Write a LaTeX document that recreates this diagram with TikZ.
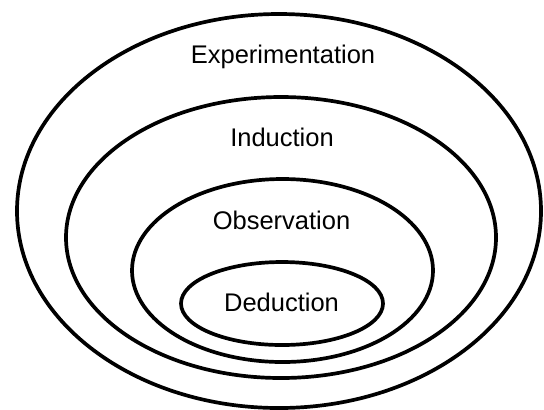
\documentclass[tikz,border=0pt]{standalone}
\usepackage{fontspec}
\setmainfont{Liberation Sans}
\usetikzlibrary{shapes.geometric}

\begin{document}
\begin{tikzpicture}[x=0.5pt, y=-0.5pt,
    ring/.style={ellipse, draw, line width=1.85pt, inner sep=0pt},
    lbl/.style={anchor=base, inner sep=0pt, font=\fontsize{12.75}{15}\selectfont}]
        \useasboundingbox (0,0) rectangle (544,409);
        % nested rings, outer to inner
        \node[ring, minimum width=262pt, minimum height=197pt]   (exper) at (279,211)   {};
        \node[ring, minimum width=215pt, minimum height=140.5pt] (induc) at (281,237.5) {};
        \node[ring, minimum width=150.5pt, minimum height=91.5pt] (obser) at (282.5,270.5) {};
        \node[ring, minimum width=101pt, minimum height=41.5pt]  (deduc) at (282,303.5) {};

        \node[lbl] (exper-txt) at (283,63)      {Experimentation};
        \node[lbl] (induc-txt) at (282,146.7)   {Induction};
        \node[lbl] (obser-txt) at (281.5,229)   {Observation};
        \node[lbl] (deduc-txt) at (281.5,311.7) {Deduction};
      \end{tikzpicture}
\end{document}
